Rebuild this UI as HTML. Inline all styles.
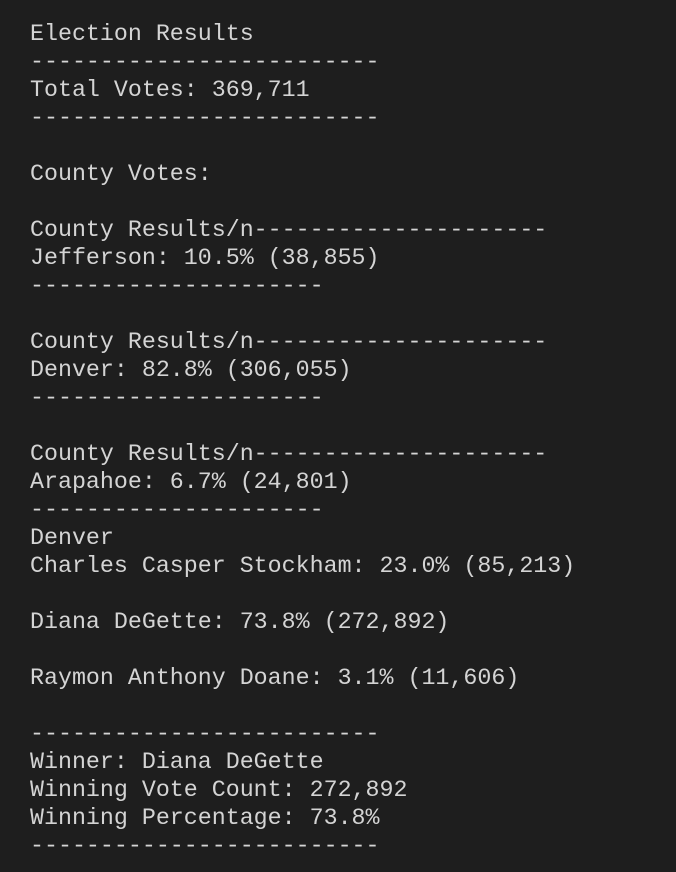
<!DOCTYPE html>
<html><head><meta charset="utf-8"><style>
html,body{margin:0;padding:0;background:#1e1e1e;width:676px;height:872px;overflow:hidden}
pre{margin:0;position:absolute;left:30px;top:20px;font-family:"Liberation Mono",monospace;font-size:23.3px;line-height:28px;color:#d4d4d4}
</style></head><body>
<pre>Election Results
-------------------------
Total Votes: 369,711
-------------------------

County Votes:

County Results/n---------------------
Jefferson: 10.5% (38,855)
---------------------

County Results/n---------------------
Denver: 82.8% (306,055)
---------------------

County Results/n---------------------
Arapahoe: 6.7% (24,801)
---------------------
Denver
Charles Casper Stockham: 23.0% (85,213)

Diana DeGette: 73.8% (272,892)

Raymon Anthony Doane: 3.1% (11,606)

-------------------------
Winner: Diana DeGette
Winning Vote Count: 272,892
Winning Percentage: 73.8%
-------------------------</pre>
</body></html>
